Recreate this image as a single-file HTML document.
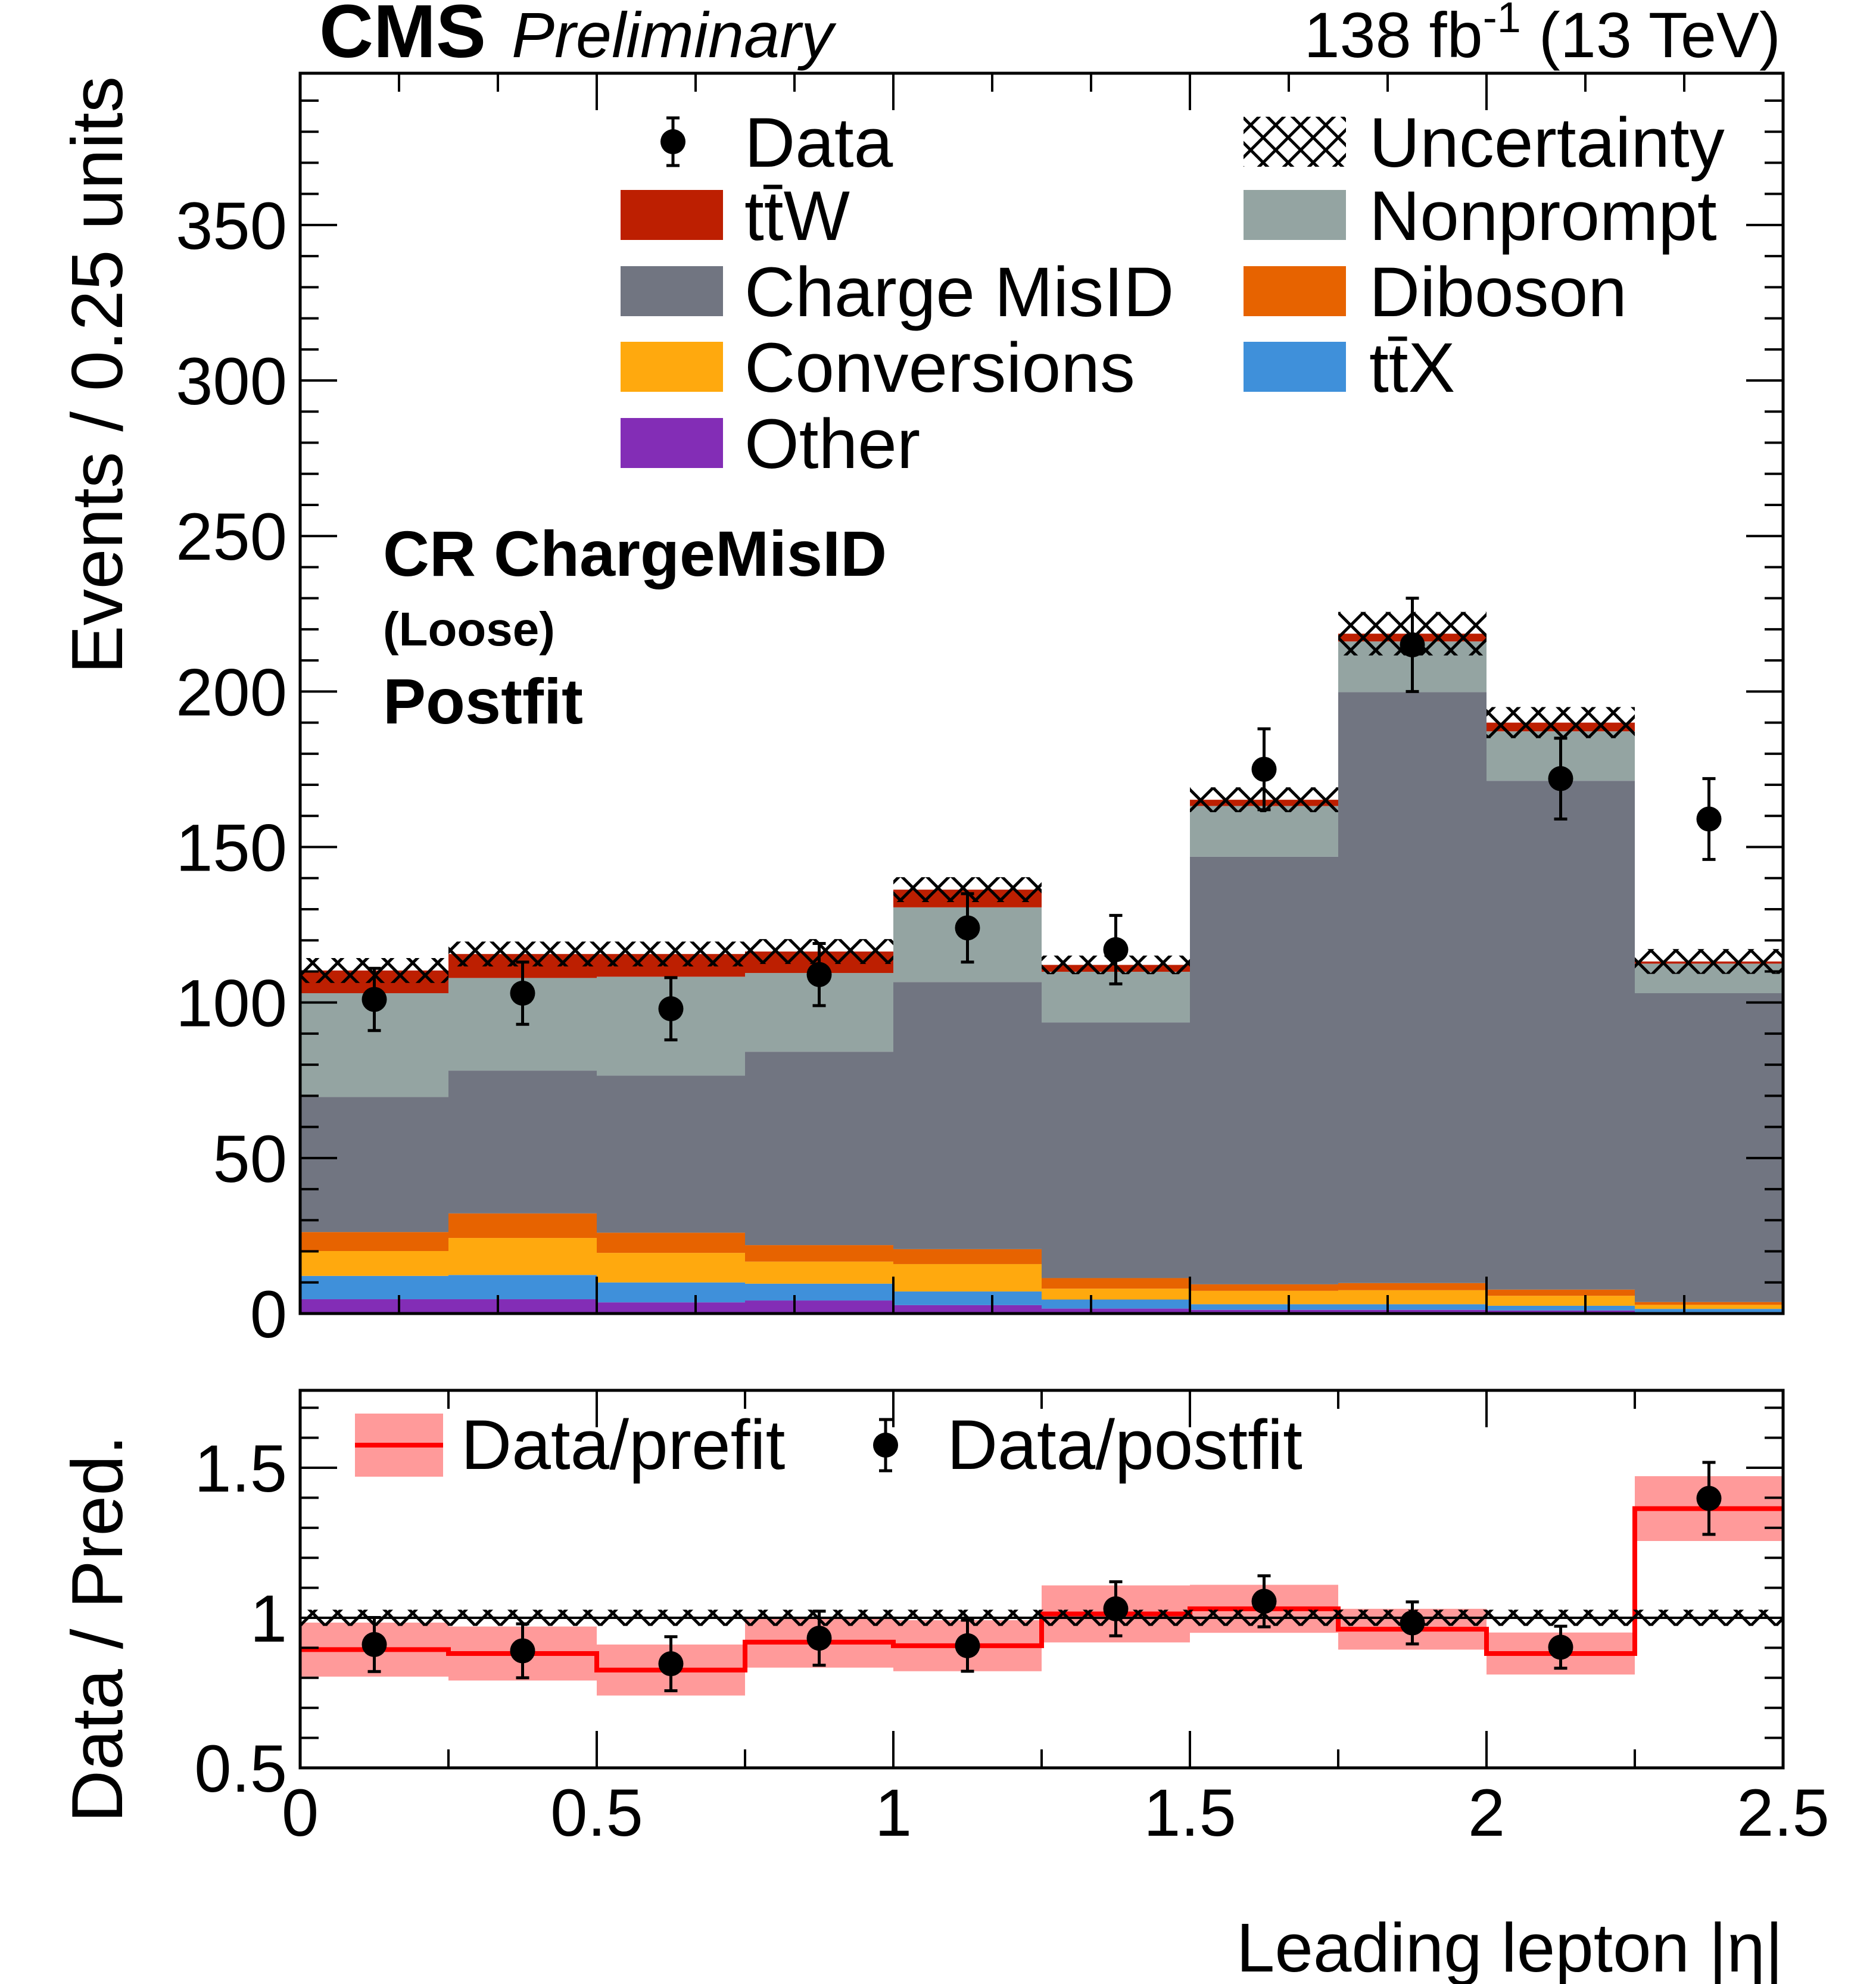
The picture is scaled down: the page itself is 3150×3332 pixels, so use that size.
<!DOCTYPE html>
<html><head><meta charset="utf-8"><style>
html,body{margin:0;padding:0;background:#fff}
svg{display:block;font-family:"Liberation Sans",sans-serif}
</style></head><body>
<svg id="c" width="3150" height="3332" viewBox="0 0 3150 3332" xmlns="http://www.w3.org/2000/svg">
<defs>
<pattern id="hatch" patternUnits="userSpaceOnUse" width="42" height="42">
<path d="M0,0 L42,42 M42,0 L0,42" stroke="#000" stroke-width="5"/>
</pattern>
<clipPath id="mainclip"><rect x="504" y="123" width="2490" height="2083"/></clipPath>
<clipPath id="ratclip"><rect x="504" y="2335" width="2490" height="634"/></clipPath>
</defs>
<g id="main" clip-path="url(#mainclip)"></g>
<g id="ratio" clip-path="url(#ratclip)"></g>
<g id="axes"></g>

<text x="536" y="96" font-size="126" font-weight="bold">CMS</text>
<text x="859" y="96" font-size="108" font-style="italic">Preliminary</text>
<text x="2990" y="96" font-size="108" text-anchor="end">138 fb<tspan dy="-42" font-size="72">-1</tspan><tspan dy="42"> (13 TeV)</tspan></text>

<text transform="translate(205,128) rotate(-90)" text-anchor="end" font-size="122">Events / 0.25 units</text>
<text transform="translate(205,2410) rotate(-90)" text-anchor="end" font-size="122">Data / Pred.</text>
<text x="2994" y="3311" text-anchor="end" font-size="116">Leading lepton |η|</text>

<text x="643" y="967" font-size="108" font-weight="bold">CR ChargeMisID</text>
<text x="643" y="1084" font-size="80" font-weight="bold">(Loose)</text>
<text x="643" y="1215" font-size="108" font-weight="bold">Postfit</text>

<g id="legend"></g>
</svg>
<script>
const binEdges = [0,0.25,0.5,0.75,1,1.25,1.5,1.75,2,2.25,2.5];
const other = [4.6,4.6,3.6,4.2,2.7,1.6,1.2,1.2,1.0,0.5];
const ttx = [7.5,7.8,6.4,5.4,4.4,2.9,1.8,1.8,1.5,1.0];
const conversions = [8.0,11.9,9.5,7.1,8.8,3.5,4.3,4.5,3.2,1.3];
const diboson = [6.1,7.9,6.5,5.3,4.8,3.4,2.1,2.3,2.0,0.9];
const chargeMisID = [43.4,45.9,50.5,62.2,85.9,82.2,137.5,190.0,163.6,99.3];
const nonprompt = [33.4,29.8,31.8,25.3,24.0,16.3,16.3,16.3,15.9,9.5];
const ttw = [7.3,7.7,7.3,6.9,5.7,2.2,2.0,2.5,2.8,0.7];
const uncert = [4,4,4,4,4,3,4,7,5,4];
const dataVals = [101,103,98,109,124,117,175,215,172,159];
const dataErr = [10,10,10,10,11,11,13,15,13,13];
const ratioPost = [0.911,0.89,0.847,0.932,0.907,1.03,1.055,0.983,0.902,1.398];
const ratioPostErr = [0.09,0.09,0.09,0.09,0.085,0.09,0.085,0.07,0.07,0.12];
const ratioPre = [0.894,0.881,0.826,0.919,0.907,1.013,1.03,0.962,0.881,1.364];
const ratioPreErr = [0.09,0.09,0.085,0.085,0.085,0.095,0.08,0.068,0.07,0.108];
const ratioUnc = 0.027;
const yTicks = [0,50,100,150,200,250,300,350];
const rTicks = [0.5,1,1.5];
const rTickLabels = ["0.5","1","1.5"];
const xTicks = [0,0.5,1,1.5,2,2.5];
const xTickLabels = ["0","0.5","1","1.5","2","2.5"];

const NS="http://www.w3.org/2000/svg";
const X0=504,X1=2994,Y0=2206,Y1=123,YMAX=398.8;
const RY0=2969,RY1=2335,RMIN=0.5,RMAX=1.758;
const sx=v=>X0+(v-binEdges[0])/(binEdges[binEdges.length-1]-binEdges[0])*(X1-X0);
const sy=v=>Y0-v/YMAX*(Y0-Y1);
const ry=v=>RY0-(v-RMIN)/(RMAX-RMIN)*(RY0-RY1);
function mk(tag,attrs,parent){const e=document.createElementNS(NS,tag);for(const k in attrs)e.setAttribute(k,attrs[k]);parent.appendChild(e);return e;}
const main=document.getElementById('main'),ratio=document.getElementById('ratio'),axes=document.getElementById('axes'),legend=document.getElementById('legend');

const comps=[["other",other,"#832db6"],["ttx",ttx,"#3f90da"],["conversions",conversions,"#ffa90e"],["diboson",diboson,"#e76300"],["charge-misid",chargeMisID,"#717581"],["nonprompt",nonprompt,"#94a4a2"],["ttw",ttw,"#bd1f01"]];
const totals=[];
for(let i=0;i<10;i++){
  let base=0;
  for(const [nm,arr,col] of comps){
    const top=base+arr[i];
    const r=mk('rect',{x:sx(binEdges[i]),y:sy(top),width:sx(binEdges[i+1])-sx(binEdges[i]),height:sy(base)-sy(top),fill:col},main);
    
    
    base=top;
  }
  totals.push(base);
}
for(let i=0;i<10;i++){
  const h=mk('rect',{x:sx(binEdges[i]),y:sy(totals[i]+uncert[i]),width:sx(binEdges[i+1])-sx(binEdges[i]),height:sy(totals[i]-uncert[i])-sy(totals[i]+uncert[i]),fill:"url(#hatch)"},main);
  
  
}
function point(parent,cx,cy,ylo,yhi,name){
  const g=mk('g',{},parent);
  
  
  mk('line',{x1:cx,x2:cx,y1:ylo,y2:yhi,stroke:"#000","stroke-width":5},g);
  mk('line',{x1:cx-11,x2:cx+11,y1:ylo,y2:ylo,stroke:"#000","stroke-width":5},g);
  mk('line',{x1:cx-11,x2:cx+11,y1:yhi,y2:yhi,stroke:"#000","stroke-width":5},g);
  mk('circle',{cx:cx,cy:cy,r:21,fill:"#000"},g);
}
for(let i=0;i<10;i++){
  const cx=(sx(binEdges[i])+sx(binEdges[i+1]))/2;
  point(main,cx,sy(dataVals[i]),sy(dataVals[i]-dataErr[i]),sy(dataVals[i]+dataErr[i]),'data-point-'+i);
}
for(let i=0;i<10;i++){
  const b=mk('rect',{x:sx(binEdges[i]),y:ry(ratioPre[i]+ratioPreErr[i]),width:sx(binEdges[i+1])-sx(binEdges[i]),height:ry(ratioPre[i]-ratioPreErr[i])-ry(ratioPre[i]+ratioPreErr[i]),fill:"#ff9a9a"},ratio);
  
  
}
let d="";
for(let i=0;i<10;i++){d+=(i?"L":"M")+sx(binEdges[i])+","+ry(ratioPre[i])+"L"+sx(binEdges[i+1])+","+ry(ratioPre[i]);}
const pl=mk('path',{d:d,fill:"none",stroke:"#ff0000","stroke-width":8},ratio);


const ul=mk('line',{x1:X0,x2:X1,y1:ry(1),y2:ry(1),stroke:"#000","stroke-width":4},ratio);


const uh=mk('rect',{x:X0,y:ry(1+ratioUnc),width:X1-X0,height:ry(1-ratioUnc)-ry(1+ratioUnc),fill:"url(#hatch)"},ratio);


for(let i=0;i<10;i++){
  const cx=(sx(binEdges[i])+sx(binEdges[i+1]))/2;
  point(ratio,cx,ry(ratioPost[i]),ry(ratioPost[i]-ratioPostErr[i]),ry(ratioPost[i]+ratioPostErr[i]),'postfit-point-'+i);
}
for(const [y0,y1,nm] of [[Y1,Y0,'main-frame'],[RY1,RY0,'ratio-frame']]){
  const f=mk('rect',{x:X0,y:y0,width:X1-X0,height:y1-y0,fill:"none",stroke:"#000","stroke-width":5},axes);
  
  
}
function tick(x1,y1,x2,y2){mk('line',{x1:x1,y1:y1,x2:x2,y2:y2,stroke:"#000","stroke-width":4},axes);}
for(let v=0;v<=YMAX;v+=10){const y=sy(v);const L=(v%50===0)?62:31;tick(X0,y,X0+L,y);tick(X1,y,X1-L,y);}
yTicks.forEach(v=>{const t=mk('text',{x:482,y:sy(v)+40,"text-anchor":"end","font-size":112},axes);t.textContent=String(v);});
for(let k=0;k<=15;k++){const v=k*0.5/3;const x=sx(v);const L=(k%3===0)?62:31;tick(x,Y0,x,Y0-L);tick(x,Y1,x,Y1+L);}
for(let k=5;k<=17;k++){const v=k/10;const y=ry(v);const L=(k%5===0)?62:31;tick(X0,y,X0+L,y);tick(X1,y,X1-L,y);}
rTicks.forEach((v,i)=>{const t=mk('text',{x:482,y:ry(v)+40,"text-anchor":"end","font-size":112},axes);t.textContent=rTickLabels[i];});
for(let k=0;k<=10;k++){const v=k*0.25;const x=sx(v);const L=(k%2===0)?62:31;tick(x,RY0,x,RY0-L);tick(x,RY1,x,RY1+L);}
xTicks.forEach((v,i)=>{const t=mk('text',{x:sx(v),y:3083,"text-anchor":"middle","font-size":112},axes);t.textContent=xTickLabels[i];});
function ltext(x,y,s,nm){const t=mk('text',{x:x,y:y,"font-size":118},legend);t.textContent=s;}
const rowsY=[238,361,489,616,744];
point(legend,1130,rowsY[0],rowsY[0]+40,rowsY[0]-40,'legend-data-marker');
ltext(1250,rowsY[0]+42,"Data",'legend-data');
const leftEntries=[["t\u0074\u0304W","#bd1f01"],["Charge MisID","#717581"],["Conversions","#ffa90e"],["Other","#832db6"]];
leftEntries.forEach((e,i)=>{const y=rowsY[i+1];const r=mk('rect',{x:1042,y:y-42,width:172,height:84,fill:e[1]},legend);ltext(1250,y+42,e[0],'legend-label');});
const rightEntries=[["Uncertainty","url(#hatch)"],["Nonprompt","#94a4a2"],["Diboson","#e76300"],["t\u0074\u0304X","#3f90da"]];
rightEntries.forEach((e,i)=>{const y=rowsY[i];const r=mk('rect',{x:2088,y:y-42,width:172,height:84,fill:e[1]},legend);ltext(2299,y+42,e[0],'legend-label');});
const rb=mk('rect',{x:596,y:2374,width:148,height:106,fill:"#ff9a9a"},legend);


mk('line',{x1:596,x2:744,y1:2427,y2:2427,stroke:"#ff0000","stroke-width":8},legend);
ltext(774,2467,"Data/prefit",'legend-prefit');
point(legend,1487,2427,2470,2384,'legend-postfit-marker');
ltext(1590,2467,"Data/postfit",'legend-postfit');
</script>
</body></html>
